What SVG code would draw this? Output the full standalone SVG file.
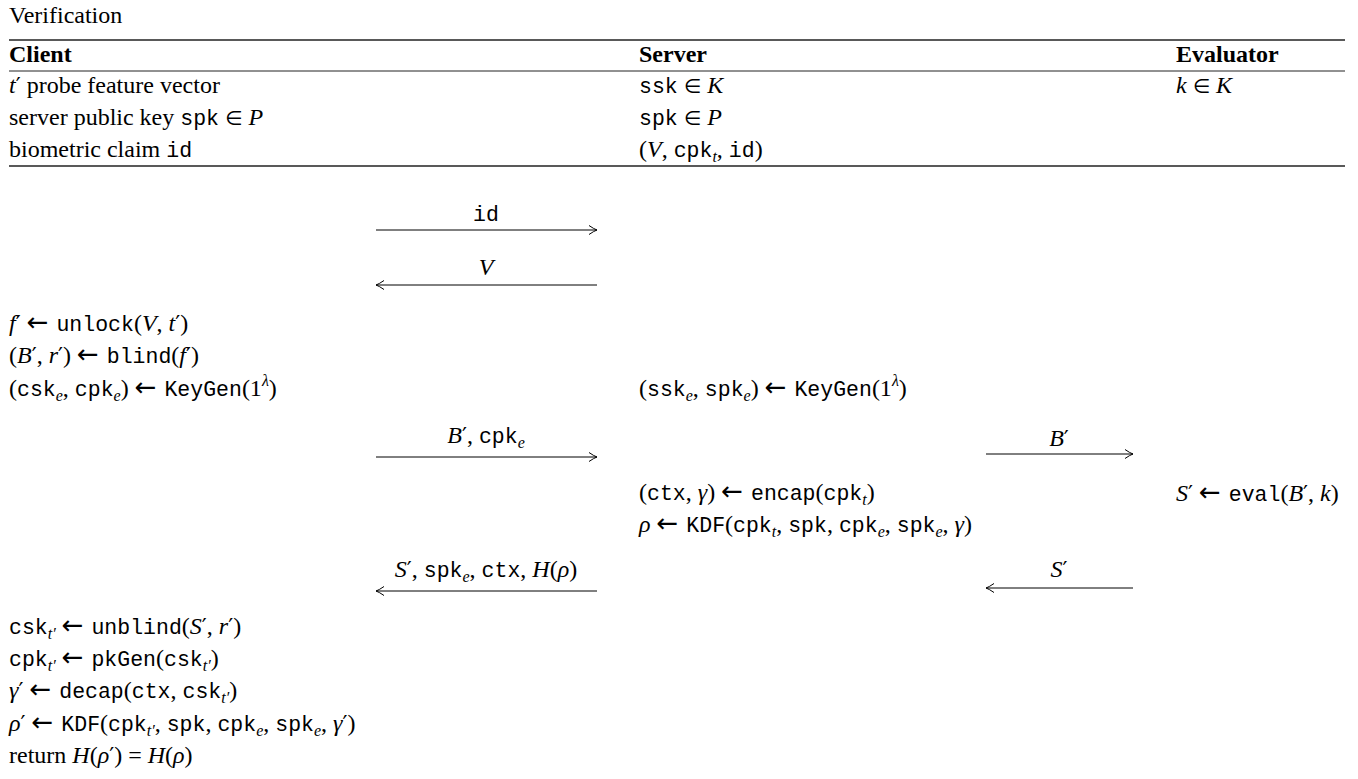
<svg xmlns="http://www.w3.org/2000/svg" width="1358" height="779" viewBox="0 0 1358 779">
<style>
text{font-family:"Liberation Serif","Times New Roman",serif;font-size:24px;fill:#000}
.b{font-weight:bold}
.it{font-style:italic}
.tt{font-family:"Liberation Mono","DejaVu Sans Mono",monospace;font-size:21.5px}
.sb{font-style:italic;font-size:16px}
.sp{font-style:italic;font-size:16px}
.ar{font-family:"DejaVu Sans",sans-serif;font-size:26px;letter-spacing:2px}
.el{font-family:"DejaVu Sans",sans-serif;font-size:20px}
.pr{font-family:"DejaVu Serif",serif;font-size:22px}
.c{text-anchor:middle}
.rule{stroke:#222;stroke-width:1.3}
.rule2{stroke:#222;stroke-width:1}
.msg{stroke:#000;stroke-width:1;fill:none}
</style>
<defs>
<marker id="ah" markerUnits="userSpaceOnUse" markerWidth="12" markerHeight="12" viewBox="-10 -6 12 12" refX="0" refY="0" orient="auto">
<path d="M-8,-4.5 Q-3,-1 0,0 Q-3,1 -8,4.5" fill="none" stroke="#000" stroke-width="1"/>
</marker>
</defs>
<rect width="1358" height="779" fill="#fff"/>

<g id="title"><text x="9" y="23">Verification</text></g>

<g id="table">
<line class="rule" x1="9" y1="40" x2="1345" y2="40"/>
<line class="rule2" x1="9" y1="71" x2="1345" y2="71"/>
<line class="rule" x1="9" y1="166" x2="1345" y2="166"/>
<text class="b" x="9" y="62">Client</text>
<text class="b" x="639" y="62">Server</text>
<text class="b" x="1176" y="62">Evaluator</text>
</g>

<g id="client-inputs">
<text x="9" y="93"><tspan class="it">t</tspan><tspan class="pr">′</tspan> probe feature vector</text>
<text x="9" y="125">server public key <tspan class="tt">spk</tspan> <tspan class="el">∈</tspan> <tspan class="it">P</tspan></text>
<text x="9" y="157">biometric claim <tspan class="tt">id</tspan></text>
</g>

<g id="server-inputs">
<text x="639" y="93"><tspan class="tt">ssk</tspan> <tspan class="el">∈</tspan> <tspan class="it">K</tspan></text>
<text x="639" y="125"><tspan class="tt">spk</tspan> <tspan class="el">∈</tspan> <tspan class="it">P</tspan></text>
<text x="639" y="157">(<tspan class="it">V</tspan>, <tspan class="tt">cpk</tspan><tspan class="sb" dy="5">t</tspan><tspan dy="-5">, </tspan><tspan class="tt">id</tspan>)</text>
</g>

<g id="evaluator-inputs">
<text x="1176" y="93"><tspan class="it">k</tspan> <tspan class="el">∈</tspan> <tspan class="it">K</tspan></text>
</g>

<g id="client-blind">
<text x="9" y="331"><tspan class="it">f</tspan><tspan class="pr">′</tspan> <tspan class="ar">←</tspan> <tspan class="tt">unlock</tspan>(<tspan class="it">V</tspan>, <tspan class="it">t</tspan><tspan class="pr">′</tspan>)</text>
<text x="9" y="363">(<tspan class="it">B</tspan><tspan class="pr">′</tspan>, <tspan class="it">r</tspan><tspan class="pr">′</tspan>) <tspan class="ar">←</tspan> <tspan class="tt">blind</tspan>(<tspan class="it">f</tspan><tspan class="pr">′</tspan>)</text>
<text x="9" y="396">(<tspan class="tt">csk</tspan><tspan class="sb" dy="5">e</tspan><tspan dy="-5">, </tspan><tspan class="tt">cpk</tspan><tspan class="sb" dy="5">e</tspan><tspan dy="-5">) </tspan><tspan class="ar">←</tspan> <tspan class="tt">KeyGen</tspan>(1<tspan class="sp" dy="-10">λ</tspan><tspan dy="10">)</tspan></text>
</g>

<g id="server-keygen">
<text x="639" y="396">(<tspan class="tt">ssk</tspan><tspan class="sb" dy="5">e</tspan><tspan dy="-5">, </tspan><tspan class="tt">spk</tspan><tspan class="sb" dy="5">e</tspan><tspan dy="-5">) </tspan><tspan class="ar">←</tspan> <tspan class="tt">KeyGen</tspan>(1<tspan class="sp" dy="-10">λ</tspan><tspan dy="10">)</tspan></text>
</g>

<g id="server-encap">
<text x="639" y="500">(<tspan class="tt">ctx</tspan>, <tspan class="it">γ</tspan>) <tspan class="ar">←</tspan> <tspan class="tt">encap</tspan>(<tspan class="tt">cpk</tspan><tspan class="sb" dy="5">t</tspan><tspan dy="-5">)</tspan></text>
<text x="639" y="532"><tspan class="it">ρ</tspan> <tspan class="ar">←</tspan> <tspan class="tt">KDF</tspan>(<tspan class="tt">cpk</tspan><tspan class="sb" dy="5">t</tspan><tspan dy="-5">, </tspan><tspan class="tt">spk</tspan>, <tspan class="tt">cpk</tspan><tspan class="sb" dy="5">e</tspan><tspan dy="-5">, </tspan><tspan class="tt">spk</tspan><tspan class="sb" dy="5">e</tspan><tspan dy="-5">, </tspan><tspan class="it">γ</tspan>)</text>
</g>

<g id="evaluator-eval">
<text x="1176" y="501"><tspan class="it">S</tspan><tspan class="pr">′</tspan> <tspan class="ar">←</tspan> <tspan class="tt">eval</tspan>(<tspan class="it">B</tspan><tspan class="pr">′</tspan>, <tspan class="it">k</tspan>)</text>
</g>

<g id="client-verify">
<text x="9" y="634"><tspan class="tt">csk</tspan><tspan class="sb" dy="5">t′</tspan><tspan dy="-5"> </tspan><tspan class="ar">←</tspan> <tspan class="tt">unblind</tspan>(<tspan class="it">S</tspan><tspan class="pr">′</tspan>, <tspan class="it">r</tspan><tspan class="pr">′</tspan>)</text>
<text x="9" y="666"><tspan class="tt">cpk</tspan><tspan class="sb" dy="5">t′</tspan><tspan dy="-5"> </tspan><tspan class="ar">←</tspan> <tspan class="tt">pkGen</tspan>(<tspan class="tt">csk</tspan><tspan class="sb" dy="5">t′</tspan><tspan dy="-5">)</tspan></text>
<text x="9" y="698"><tspan class="it">γ</tspan><tspan class="pr">′</tspan> <tspan class="ar">←</tspan> <tspan class="tt">decap</tspan>(<tspan class="tt">ctx</tspan>, <tspan class="tt">csk</tspan><tspan class="sb" dy="5">t′</tspan><tspan dy="-5">)</tspan></text>
<text x="9" y="731"><tspan class="it">ρ</tspan><tspan class="pr">′</tspan> <tspan class="ar">←</tspan> <tspan class="tt">KDF</tspan>(<tspan class="tt">cpk</tspan><tspan class="sb" dy="5">t′</tspan><tspan dy="-5">, </tspan><tspan class="tt">spk</tspan>, <tspan class="tt">cpk</tspan><tspan class="sb" dy="5">e</tspan><tspan dy="-5">, </tspan><tspan class="tt">spk</tspan><tspan class="sb" dy="5">e</tspan><tspan dy="-5">, </tspan><tspan class="it">γ</tspan><tspan class="pr">′</tspan>)</text>
<text x="9" y="763">return <tspan class="it">H</tspan>(<tspan class="it">ρ</tspan><tspan class="pr">′</tspan>) = <tspan class="it">H</tspan>(<tspan class="it">ρ</tspan>)</text>
</g>

<g id="connectors">
<line class="msg" x1="376" y1="230" x2="597" y2="230" marker-end="url(#ah)"/>
<line class="msg" x1="597" y1="285" x2="376" y2="285" marker-end="url(#ah)"/>
<line class="msg" x1="376" y1="457" x2="597" y2="457" marker-end="url(#ah)"/>
<line class="msg" x1="597" y1="591" x2="376" y2="591" marker-end="url(#ah)"/>
<line class="msg" x1="986" y1="454" x2="1133" y2="454" marker-end="url(#ah)"/>
<line class="msg" x1="1133" y1="588" x2="986" y2="588" marker-end="url(#ah)"/>
<text class="c" x="486" y="221"><tspan class="tt">id</tspan></text>
<text class="c" x="486" y="275"><tspan class="it">V</tspan></text>
<text class="c" x="486" y="443"><tspan class="it">B</tspan><tspan class="pr">′</tspan>, <tspan class="tt">cpk</tspan><tspan class="sb" dy="5">e</tspan></text>
<text class="c" x="486" y="577"><tspan class="it">S</tspan><tspan class="pr">′</tspan>, <tspan class="tt">spk</tspan><tspan class="sb" dy="5">e</tspan><tspan dy="-5">, </tspan><tspan class="tt">ctx</tspan>, <tspan class="it">H</tspan>(<tspan class="it">ρ</tspan>)</text>
<text class="c" x="1059" y="446"><tspan class="it">B</tspan><tspan class="pr">′</tspan></text>
<text class="c" x="1059" y="577"><tspan class="it">S</tspan><tspan class="pr">′</tspan></text>
</g>
</svg>
